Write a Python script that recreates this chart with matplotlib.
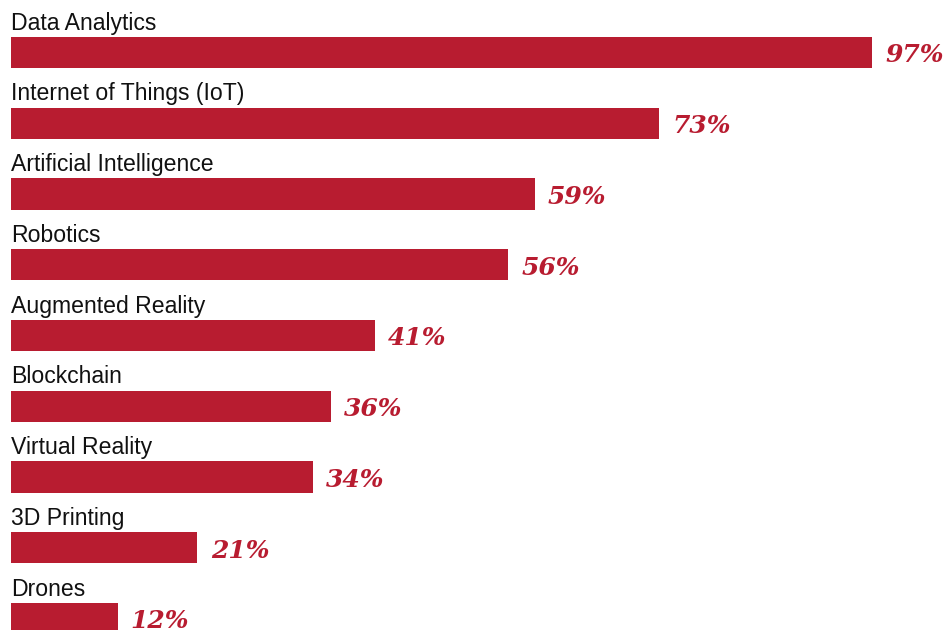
import matplotlib
matplotlib.use("Agg")
import matplotlib.pyplot as plt

# --- data ---
categories = ["Data Analytics", "Internet of Things (IoT)", "Artificial Intelligence",
              "Robotics", "Augmented Reality", "Blockchain", "Virtual Reality",
              "3D Printing", "Drones"]
values = [97, 73, 59, 56, 41, 36, 34, 21, 12]

bar_color = "#B81C30"

# --- chart ---
fig = plt.figure(figsize=(9.47, 6.3), dpi=100)
ax = fig.add_axes([0, 0, 1, 1])

pos = list(range(len(categories)))
ax.barh(pos, values, height=0.44, color=bar_color, left=0)

for i, (cat, val) in enumerate(zip(categories, values)):
    ax.text(0, i - 0.325, cat, ha="left", va="baseline",
            fontsize=16.6, family="Liberation Sans", color="#111111")
    ax.text(val + 1.5, i + 0.04, f"{val}%", ha="left", va="center",
            fontsize=18, family="DejaVu Serif", fontweight="bold",
            fontstyle="italic", color=bar_color)

px_per_pct = 8.876
ax.set_xlim(-11 / px_per_pct, (947 - 11) / px_per_pct)
ax.set_ylim((630 - 52.5) / 70.75, -52.5 / 70.75)
ax.axis("off")

fig.savefig("out.png", dpi=100)
plt.close(fig)
